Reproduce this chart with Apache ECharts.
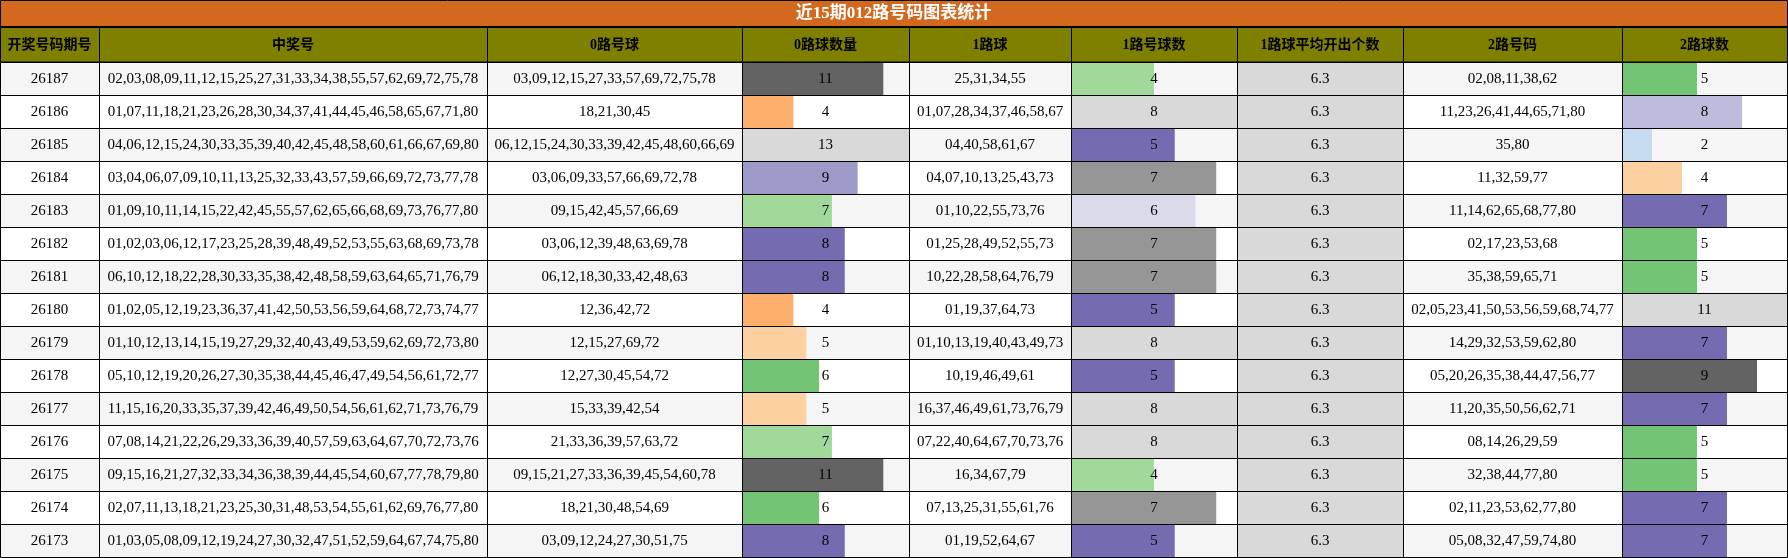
<!DOCTYPE html>
<html>
<head>
<meta charset="utf-8">
<title>近15期012路号码图表统计</title>
<script src="https://cdn.jsdelivr.net/npm/echarts@6.0.0/dist/echarts.min.js"></script>
<style>
  html, body { margin: 0; padding: 0; background: #fff; }
  #chart { width: 1788px; height: 558px; }
</style>
</head>
<body>
<div id="chart"></div>
<script>
// --- data ---
const periods = ['26187', '26186', '26185', '26184', '26183', '26182', '26181', '26180',
  '26179', '26178', '26177', '26176', '26175', '26174', '26173'];

const winning = [
  '02,03,08,09,11,12,15,25,27,31,33,34,38,55,57,62,69,72,75,78',
  '01,07,11,18,21,23,26,28,30,34,37,41,44,45,46,58,65,67,71,80',
  '04,06,12,15,24,30,33,35,39,40,42,45,48,58,60,61,66,67,69,80',
  '03,04,06,07,09,10,11,13,25,32,33,43,57,59,66,69,72,73,77,78',
  '01,09,10,11,14,15,22,42,45,55,57,62,65,66,68,69,73,76,77,80',
  '01,02,03,06,12,17,23,25,28,39,48,49,52,53,55,63,68,69,73,78',
  '06,10,12,18,22,28,30,33,35,38,42,48,58,59,63,64,65,71,76,79',
  '01,02,05,12,19,23,36,37,41,42,50,53,56,59,64,68,72,73,74,77',
  '01,10,12,13,14,15,19,27,29,32,40,43,49,53,59,62,69,72,73,80',
  '05,10,12,19,20,26,27,30,35,38,44,45,46,47,49,54,56,61,72,77',
  '11,15,16,20,33,35,37,39,42,46,49,50,54,56,61,62,71,73,76,79',
  '07,08,14,21,22,26,29,33,36,39,40,57,59,63,64,67,70,72,73,76',
  '09,15,16,21,27,32,33,34,36,38,39,44,45,54,60,67,77,78,79,80',
  '02,07,11,13,18,21,23,25,30,31,48,53,54,55,61,62,69,76,77,80',
  '01,03,05,08,09,12,19,24,27,30,32,47,51,52,59,64,67,74,75,80'
];

const road0 = [
  '03,09,12,15,27,33,57,69,72,75,78', '18,21,30,45', '06,12,15,24,30,33,39,42,45,48,60,66,69',
  '03,06,09,33,57,66,69,72,78', '09,15,42,45,57,66,69', '03,06,12,39,48,63,69,78',
  '06,12,18,30,33,42,48,63', '12,36,42,72', '12,15,27,69,72', '12,27,30,45,54,72',
  '15,33,39,42,54', '21,33,36,39,57,63,72', '09,15,21,27,33,36,39,45,54,60,78',
  '18,21,30,48,54,69', '03,09,12,24,27,30,51,75'
];
const road0Count = [11, 4, 13, 9, 7, 8, 8, 4, 5, 6, 5, 7, 11, 6, 8];

const road1 = [
  '25,31,34,55', '01,07,28,34,37,46,58,67', '04,40,58,61,67', '04,07,10,13,25,43,73',
  '01,10,22,55,73,76', '01,25,28,49,52,55,73', '10,22,28,58,64,76,79', '01,19,37,64,73',
  '01,10,13,19,40,43,49,73', '10,19,46,49,61', '16,37,46,49,61,73,76,79',
  '07,22,40,64,67,70,73,76', '16,34,67,79', '07,13,25,31,55,61,76', '01,19,52,64,67'
];
const road1Count = [4, 8, 5, 7, 6, 7, 7, 5, 8, 5, 8, 8, 4, 7, 5];
const road1Avg = [6.3, 6.3, 6.3, 6.3, 6.3, 6.3, 6.3, 6.3, 6.3, 6.3, 6.3, 6.3, 6.3, 6.3, 6.3];

const road2 = [
  '02,08,11,38,62', '11,23,26,41,44,65,71,80', '35,80', '11,32,59,77',
  '11,14,62,65,68,77,80', '02,17,23,53,68', '35,38,59,65,71',
  '02,05,23,41,50,53,56,59,68,74,77', '14,29,32,53,59,62,80',
  '05,20,26,35,38,44,47,56,77', '11,20,35,50,56,62,71', '08,14,26,29,59',
  '32,38,44,77,80', '02,11,23,53,62,77,80', '05,08,32,47,59,74,80'
];
const road2Count = [5, 8, 2, 4, 7, 5, 5, 11, 7, 9, 7, 5, 5, 7, 7];

const headers = ['开奖号码期号', '中奖号', '0路号球', '0路球数量', '1路球', '1路号球数',
  '1路球平均开出个数', '2路号码', '2路球数'];
const titleText = '近15期012路号码图表统计';

// --- layout ---
const colWidths = [99, 388, 255, 167, 162, 166, 166, 219, 165];
const titleH = 26, headTop = 28, bodyTop = 62, rowH = 33;
const font = '"Liberation Serif", "Noto Sans CJK SC", serif';
// data-bar palette (tab20c), picked by share of column max
const palette = ['#3182bd', '#6baed6', '#9ecae1', '#c6dbef', '#e6550d', '#fd8d3c', '#fdae6b', '#fdd0a2',
  '#31a354', '#74c476', '#a1d99b', '#c7e9c0', '#756bb1', '#9e9ac8', '#bcbddc', '#dadaeb',
  '#636363', '#969696', '#bdbdbd', '#d9d9d9'];

const columns = [
  { values: periods }, { values: winning }, { values: road0 },
  { values: road0Count, bar: true }, { values: road1 }, { values: road1Count, bar: true },
  { values: road1Avg, bar: true }, { values: road2 }, { values: road2Count, bar: true }
];

const edges = [0];
colWidths.forEach(w => edges.push(edges[edges.length - 1] + w));

const grid = [], xAxis = [], yAxis = [], series = [], graphic = [];

columns.forEach((col, i) => {
  const maxV = col.bar ? Math.max(...col.values) : 1;
  grid.push({ left: edges[i], top: bodyTop, width: colWidths[i], height: rowH * periods.length });
  xAxis.push({ gridIndex: i, type: 'value', min: 0, max: maxV, show: false });
  yAxis.push({ gridIndex: i, type: 'category', data: periods, inverse: true, show: false });

  // row backgrounds
  series.push({
    type: 'custom', xAxisIndex: i, yAxisIndex: i, z: 1, silent: true,
    data: periods.map((p, r) => [0, r]),
    renderItem: (params, api) => {
      const cs = params.coordSys;
      const c = api.coord([0, api.value(1)]);
      const h = api.size([0, 1])[1];
      return {
        type: 'rect',
        shape: { x: cs.x, y: c[1] - h / 2, width: cs.width, height: h },
        style: { fill: params.dataIndex % 2 === 0 ? '#f5f5f5' : '#ffffff' }
      };
    }
  });

  if (col.bar) {
    series.push({
      type: 'bar', xAxisIndex: i, yAxisIndex: i, z: 2, silent: true,
      barCategoryGap: '0%',
      data: col.values,
      itemStyle: {
        color: p => palette[Math.min(19, Math.floor(p.value / maxV * 20))]
      }
    });
  }

  // borders + text on top
  series.push({
    type: 'custom', xAxisIndex: i, yAxisIndex: i, z: 3, silent: true,
    data: periods.map((p, r) => [0, r]),
    renderItem: (params, api) => {
      const cs = params.coordSys;
      const c = api.coord([0, api.value(1)]);
      const h = api.size([0, 1])[1];
      const top = Math.round(c[1] - h / 2) + 0.5;
      const left = Math.round(cs.x) + 0.5;
      return {
        type: 'group',
        children: [
          {
            type: 'rect',
            shape: { x: left, y: top, width: Math.round(cs.width), height: Math.round(h) },
            style: { fill: null, stroke: '#000', lineWidth: 1 }
          },
          {
            type: 'text',
            style: {
              text: String(col.values[params.dataIndex]),
              x: cs.x + cs.width / 2, y: c[1] + 1,
              align: 'center', verticalAlign: 'middle',
              fontSize: 15, fontFamily: font, fill: '#000'
            }
          }
        ]
      };
    }
  });

  // header cell
  graphic.push({
    type: 'rect', silent: true, z: 5,
    shape: { x: edges[i] + 0.5, y: headTop - 0.5, width: colWidths[i], height: bodyTop - headTop + 0.5 },
    style: { fill: '#808000', stroke: '#000', lineWidth: 1 }
  });
  graphic.push({
    type: 'text', silent: true, z: 6,
    style: {
      text: headers[i], x: edges[i] + colWidths[i] / 2, y: (headTop + bodyTop) / 2,
      align: 'center', verticalAlign: 'middle',
      fontSize: 14, fontWeight: 'bold', fontFamily: font, fill: '#000'
    }
  });
});

const total = edges[edges.length - 1];
graphic.push({
  type: 'rect', silent: true, z: 5,
  shape: { x: 0.5, y: 0.5, width: total, height: titleH },
  style: { fill: '#d2691e', stroke: '#000', lineWidth: 1 }
});
graphic.push({
  type: 'rect', silent: true, z: 6,
  shape: { x: 0, y: titleH, width: total + 1, height: 2 },
  style: { fill: '#000' }
});
graphic.push({
  type: 'text', silent: true, z: 7,
  style: {
    text: titleText, x: total / 2, y: titleH / 2 + 1,
    align: 'center', verticalAlign: 'middle',
    fontSize: 17, fontWeight: 'bold', fontFamily: font, fill: '#fff'
  }
});

const chart = echarts.init(document.getElementById('chart'));
chart.setOption({
  animation: false,
  backgroundColor: '#fff',
  grid, xAxis, yAxis, series, graphic
});
</script>
</body>
</html>
